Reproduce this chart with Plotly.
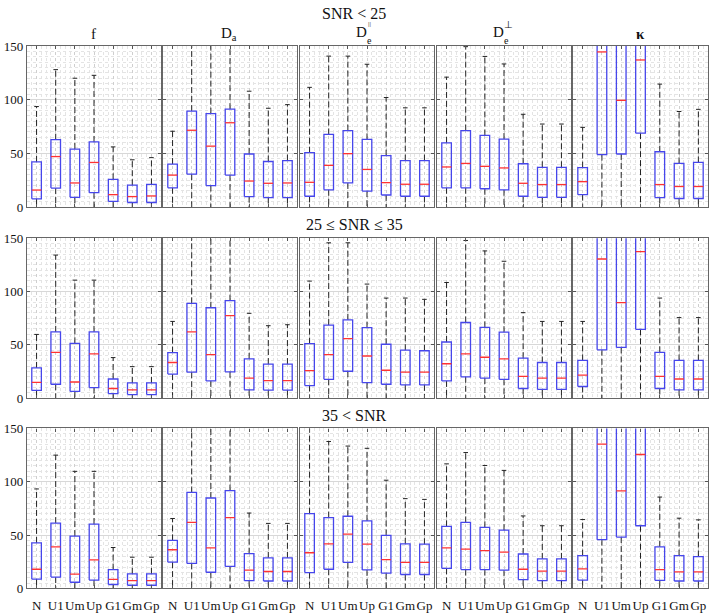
import plotly.graph_objects as go

CATS = ["N", "U1", "Um", "Up", "G1", "Gm", "Gp"]
PARAMS = ["f", "Da", "De_par", "De_perp", "kappa"]
ROW_TITLES = ["SNR < 25", "25 ≤ SNR ≤ 35", "35 < SNR"]

# ---- Row 1: SNR < 25 (one list per parameter, 7 methods each) ----
Q1_LOW = [[7.6, 17.6, 9, 13.3, 5.2, 4.2, 4.2],
          [17.9, 30.6, 20, 29.7, 9.7, 8.8, 8.8],
          [10, 16, 22.4, 14.8, 11.2, 10, 10],
          [17.9, 17.9, 17, 16, 10, 9, 9],
          [11.5, 48.8, 49.4, 68.8, 8.8, 7.9, 7.9]]
MED_LOW = [[15.8, 47, 22.4, 41.5, 11.5, 9.7, 10.3],
           [29.7, 71.5, 56.7, 78.5, 24.2, 22.1, 22.4],
           [23, 38.8, 49.7, 35, 22.7, 21.2, 21.2],
           [37.3, 40.6, 37.9, 36.4, 22.1, 20.9, 20.9],
           [23.6, 144.5, 99.4, 137, 20.9, 19.1, 19.1]]
Q3_LOW = [[42, 62.7, 54, 60.6, 25.8, 20.3, 21],
          [40, 89.4, 87, 91.2, 49.4, 42.4, 43.3],
          [50.6, 67.6, 71.2, 63, 47.9, 43.3, 43.3],
          [59.7, 71.2, 66.7, 63.3, 40.3, 37, 37],
          [36.7, 200, 200, 200, 51.5, 40.6, 41.5]]
UP_LOW = [[93.6, 128, 120, 122.7, 56, 44, 46],
          [70.6, 170, 170, 170, 107.9, 92, 95.4],
          [111.5, 140.6, 140.6, 133, 102, 92.4, 92.4],
          [121, 149.4, 140.3, 133.3, 86.4, 77.3, 77.3],
          [74.2, 300, 300, 300, 114.5, 89, 91]]

# ---- Row 2: 25 <= SNR <= 35 ----
Q1_MID = [[7.3, 13.1, 6.4, 10, 4.3, 3.4, 3.4],
          [22.6, 24.4, 16.2, 24.7, 7.9, 7.6, 7.6],
          [11.9, 17.7, 25.3, 14.6, 13.1, 12.5, 12.5],
          [16.2, 20.1, 18.9, 17.7, 9.1, 8.2, 8.2],
          [11, 45.4, 47.6, 64.6, 9.1, 7.9, 7.9]]
MED_MID = [[14.9, 43, 15.2, 41.5, 9.1, 7.9, 7.9],
           [33.5, 62.2, 40.9, 77.4, 18.9, 16.5, 16.5],
           [25.9, 40.9, 55.8, 39.6, 26.2, 24.4, 24.4],
           [32.3, 41.5, 38.4, 36.9, 20.4, 18.9, 18.9],
           [21.6, 130.5, 89.6, 137.5, 20.4, 18, 18]]
Q3_MID = [[28.4, 62.2, 51.5, 62.2, 18, 14.3, 14.3],
          [42.7, 89, 84.8, 91.5, 36.9, 32, 32],
          [51.2, 68.6, 73.5, 66.2, 50.6, 45, 44.5],
          [52.7, 71, 66.5, 61.9, 37.5, 33.5, 33.5],
          [35.4, 200, 200, 200, 43, 35.4, 35.4]]
UP_MID = [[59.8, 134.2, 110.7, 110.7, 38.1, 29.6, 29.6],
          [72, 170, 170, 170, 79.6, 68, 68.9],
          [109.8, 145.7, 145.7, 107, 93.9, 93.9, 92.7],
          [108.5, 147.9, 138.1, 128.4, 80.2, 72, 72],
          [72, 300, 300, 300, 93.9, 75.6, 75.6]]

# ---- Row 3: 35 < SNR ----
Q1_HIGH = [[8.8, 10.7, 5.8, 7.9, 3.7, 3, 3],
           [24.7, 23.5, 15.2, 20.7, 7.3, 7, 7],
           [14.9, 18, 24.4, 17.4, 14.3, 13.1, 13.1],
           [18.9, 17.7, 17.7, 17.1, 8.2, 7.3, 7.3],
           [7.9, 45.7, 48.2, 58.8, 7.6, 7, 7]]
MED_HIGH = [[18, 39, 13.4, 26.8, 8.5, 7.3, 7.3],
            [36.3, 61.9, 38.1, 66.5, 17.1, 15.9, 15.9],
            [33.5, 41.8, 50.9, 41.5, 27.1, 24.4, 24.4],
            [38.1, 36.9, 35.4, 34.1, 18, 16.2, 16.2],
            [18.3, 135.4, 91.5, 125.6, 17.7, 15.5, 15.5]]
Q3_HIGH = [[42.7, 61.3, 49.1, 60.4, 17.7, 13.7, 13.7],
           [45.1, 90, 84.8, 91.8, 32.6, 28.7, 28.7],
           [70.1, 66.5, 67.7, 63.4, 49.7, 41.8, 41.5],
           [58.2, 61.9, 57.3, 54.6, 32.3, 27.7, 27.7],
           [30.8, 200, 200, 200, 39, 30.8, 29.9]]
UP_HIGH = [[93.3, 125, 109.8, 109.8, 38.4, 29.3, 29.3],
           [65.6, 170, 170, 170, 70.7, 61, 61],
           [170, 137.8, 133.5, 131.4, 101.5, 84.2, 83.5],
           [116.8, 127.4, 115.3, 110.7, 68, 58.8, 58.8],
           [64.6, 300, 300, 300, 85.7, 65.9, 64.3]]

LOWER_FENCE = 0
Y_TICKS = [0, 50, 100, 150]

ROWS = [(Q1_LOW, MED_LOW, Q3_LOW, UP_LOW),
        (Q1_MID, MED_MID, Q3_MID, UP_MID),
        (Q1_HIGH, MED_HIGH, Q3_HIGH, UP_HIGH)]

W = 709
H = 615
FONT = "Liberation Serif"
BOX_HW = 0.25
CAP_HW = 0.12

col_px = [(27, 161), (163, 297), (300, 434), (437, 571), (573, 708)]
row_px = [(40, 205), (237, 401), (432, 596)]

fig = go.Figure()
layout_axes = {}

for r, (q1s, meds, q3s, ups) in enumerate(ROWS):
    for c in range(5):
        n = r * 5 + c + 1
        xa = "x" if n == 1 else f"x{n}"
        ya = "y" if n == 1 else f"y{n}"
        q1, md, q3, up = q1s[c], meds[c], q3s[c], ups[c]
        bx, by, mx, my, wx, wy, cx, cy = [], [], [], [], [], [], [], []
        for i in range(len(CATS)):
            p = i + 1
            bx += [p - BOX_HW, p + BOX_HW, p + BOX_HW, p - BOX_HW, p - BOX_HW, None]
            by += [q1[i], q1[i], q3[i], q3[i], q1[i], None]
            mx += [p - BOX_HW, p + BOX_HW, None]
            my += [md[i], md[i], None]
            wx += [p, p, None, p, p, None]
            wy += [q3[i], up[i], None, q1[i], LOWER_FENCE, None]
            cx += [p - CAP_HW, p + CAP_HW, None]
            cy += [up[i], up[i], None]
        fig.add_trace(go.Scatter(x=wx, y=wy, mode="lines", xaxis=xa, yaxis=ya,
                                 line=dict(color="#222222", width=1, dash="6px,3px"),
                                 showlegend=False, hoverinfo="skip"))
        fig.add_trace(go.Scatter(x=cx, y=cy, mode="lines", xaxis=xa, yaxis=ya,
                                 line=dict(color="#222222", width=1),
                                 showlegend=False, hoverinfo="skip"))
        fig.add_trace(go.Scatter(x=bx, y=by, mode="lines", xaxis=xa, yaxis=ya,
                                 line=dict(color="rgb(70,70,235)", width=1.3),
                                 showlegend=False, hoverinfo="skip"))
        fig.add_trace(go.Scatter(x=mx, y=my, mode="lines", xaxis=xa, yaxis=ya,
                                 line=dict(color="rgb(255,50,50)", width=1.3),
                                 showlegend=False, hoverinfo="skip"))

        x0, x1 = col_px[c]
        yt, yb = row_px[r]
        xkey = "xaxis" if n == 1 else f"xaxis{n}"
        ykey = "yaxis" if n == 1 else f"yaxis{n}"
        layout_axes[xkey] = dict(
            domain=[x0 / W, x1 / W], anchor=ya, range=[0.5, 7.5],
            tickmode="array", tickvals=list(range(1, len(CATS) + 1)),
            ticktext=CATS, showticklabels=(r == 2), tickangle=0,
            ticklabelstandoff=5,
            ticks="inside", ticklen=3, tickcolor="#555555",
            showline=True, linecolor="#666666", linewidth=1.2, mirror="ticks",
            showgrid=True, gridcolor="#cfcfcf", griddash="dot", gridwidth=1,
            minor=dict(dtick=0.25, tick0=0.5, showgrid=True, gridcolor="#e4e4e4",
                       griddash="dot", gridwidth=1),
            zeroline=False, fixedrange=True,
            tickfont=dict(family=FONT, size=13, color="#111111"),
        )
        layout_axes[ykey] = dict(
            domain=[1 - yb / H, 1 - yt / H], anchor=xa, range=[0, 150],
            tickmode="array", tickvals=Y_TICKS, showticklabels=(c == 0),
            ticks="inside", ticklen=3, tickcolor="#555555",
            showline=True, linecolor="#666666", linewidth=1.2, mirror="ticks",
            showgrid=True, gridcolor="#d8d8d8", gridwidth=1,
            minor=dict(dtick=5, showgrid=True, gridcolor="#e4e4e4",
                       griddash="dot", gridwidth=1),
            zeroline=False, fixedrange=True,
            tickfont=dict(family=FONT, size=13, color="#111111"),
        )

annotations = []
# Row titles
row_title_y = [7, 223, 419]
for t, yy in zip(ROW_TITLES, row_title_y):
    annotations.append(dict(text=t, x=354 / W, y=1 - yy / H, xref="paper", yref="paper",
                            showarrow=False, xanchor="center", yanchor="middle",
                            font=dict(family=FONT, size=16, color="#111111")))

# Column titles (row 1 only)
tf = dict(family=FONT, size=15, color="#111111")
sf = dict(family=FONT, size=10, color="#111111")
pf = dict(family=FONT, size=7, color="#111111")
def ann(text, x, y, font, xanchor="center"):
    annotations.append(dict(text=text, x=x / W, y=1 - y / H, xref="paper", yref="paper",
                            showarrow=False, xanchor=xanchor, yanchor="middle", font=font))

ann("f", 93, 28, tf)
ann("D<sub>a</sub>", 229, 28, tf)
ann("D", 361, 26, tf)
ann("||", 366, 17, pf, "left")
ann("e", 365, 34, sf, "left")
ann("D", 498, 26, tf)
ann("⊥", 502, 18, sf, "left")
ann("e", 502, 34, sf, "left")
ann("<b>κ</b>", 640, 28, tf)

fig.update_layout(
    width=W, height=H,
    margin=dict(l=0, r=0, t=0, b=0),
    paper_bgcolor="white", plot_bgcolor="white",
    showlegend=False,
    annotations=annotations,
    **layout_axes,
)

fig.write_html("out.html", config={"displayModeBar": False})

# remove the default page margin so the figure sits at the window's top-left
with open("out.html", "r", encoding="utf-8") as fh:
    html = fh.read()
html = html.replace("<head>", "<head><style>html,body{margin:0;padding:0;overflow:hidden;}</style>", 1)
with open("out.html", "w", encoding="utf-8") as fh:
    fh.write(html)
